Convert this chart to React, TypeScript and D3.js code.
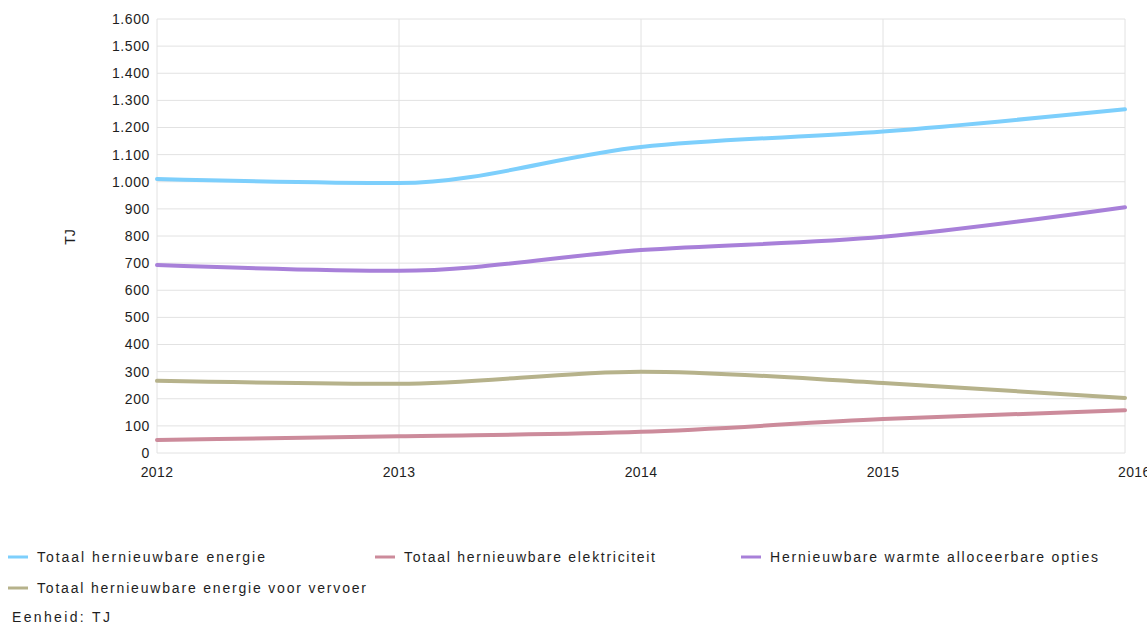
import React from "react";
import * as d3 from "d3";

const years = [2012, 2013, 2014, 2015, 2016];
const totaalEnergie = [1010, 995, 1128, 1185, 1267];
const totaalElektriciteit = [48, 62, 78, 125, 158];
const warmteOpties = [693, 672, 748, 797, 906];
const energieVervoer = [266, 255, 300, 258, 203];
const yTicks = [0, 100, 200, 300, 400, 500, 600, 700, 800, 900, 1000, 1100, 1200, 1300, 1400, 1500, 1600];
const tickLabels = ["0", "100", "200", "300", "400", "500", "600", "700", "800", "900", "1.000", "1.100", "1.200", "1.300", "1.400", "1.500", "1.600"];

const series = [
  { name: "Totaal hernieuwbare energie", values: totaalEnergie, color: "#7dcffc" },
  { name: "Totaal hernieuwbare elektriciteit", values: totaalElektriciteit, color: "#cc8b9b" },
  { name: "Hernieuwbare warmte alloceerbare opties", values: warmteOpties, color: "#a880d9" },
  { name: "Totaal hernieuwbare energie voor vervoer", values: energieVervoer, color: "#b6b28b" },
];

const legendLayout = [
  { x: 8, y: 557, w: 228 },
  { x: 375, y: 557, w: 251 },
  { x: 741, y: 557, w: 328 },
  { x: 8, y: 588, w: 329 },
];

export default function App() {
  const W = 1147, H = 623;
  const x = d3.scaleLinear().domain([2012, 2016]).range([157, 1125]);
  const y = d3.scaleLinear().domain([0, 1600]).range([453, 19]);
  const line = d3.line<number>()
    .x((_, i) => x(years[i]))
    .y((d) => y(d))
    .curve(d3.curveMonotoneX);
  const font = "Arial, 'Liberation Sans', sans-serif";
  const textColor = "#1e1e1e";

  return (
    <svg width={W} height={H} style={{ position: "absolute", left: 0, top: 0, background: "#fff" }}>
      {yTicks.map((t) => (
        <line key={"h" + t} x1={x(2012)} x2={x(2016)} y1={y(t)} y2={y(t)} stroke="#e2e2e2" strokeWidth={1} />
      ))}
      {years.map((yr) => (
        <line key={"v" + yr} x1={x(yr)} x2={x(yr)} y1={y(1600)} y2={y(0)} stroke="#e2e2e2" strokeWidth={1} />
      ))}
      {yTicks.map((t, i) => (
        <text key={"yl" + t} x={150} y={y(t)} dy="0.35em" textAnchor="end" fontFamily={font} fontSize={14} fill={textColor} letterSpacing={0.6}>
          {tickLabels[i]}
        </text>
      ))}
      {years.map((yr, i) => {
        const last = i === years.length - 1;
        return (
          <text key={"xl" + yr} x={last ? x(yr) - 7 : x(yr)} y={477} textAnchor={last ? "start" : "middle"} fontFamily={font} fontSize={14} fill={textColor} letterSpacing={0.4}>
            {yr}
          </text>
        );
      })}
      <text transform={`translate(75,237) rotate(-90)`} textAnchor="middle" fontFamily={font} fontSize={14} fill={textColor}>TJ</text>
      {series.map((s) => (
        <path key={s.name} d={line(s.values) || ""} fill="none" stroke={s.color} strokeWidth={4} strokeLinecap="round" />
      ))}
      {series.map((s, i) => {
        const L = legendLayout[i];
        return (
          <g key={"lg" + i}>
            <line x1={L.x} x2={L.x + 20} y1={L.y} y2={L.y} stroke={s.color} strokeWidth={3} />
            <text x={L.x + 29} y={L.y} dy="0.35em" fontFamily={font} fontSize={14} fill={textColor} textLength={L.w} lengthAdjust="spacing">
              {s.name}
            </text>
          </g>
        );
      })}
      <text x={12} y={617} dy="0.35em" fontFamily={font} fontSize={14} fill={textColor} textLength={98} lengthAdjust="spacing">Eenheid: TJ</text>
    </svg>
  );
}
